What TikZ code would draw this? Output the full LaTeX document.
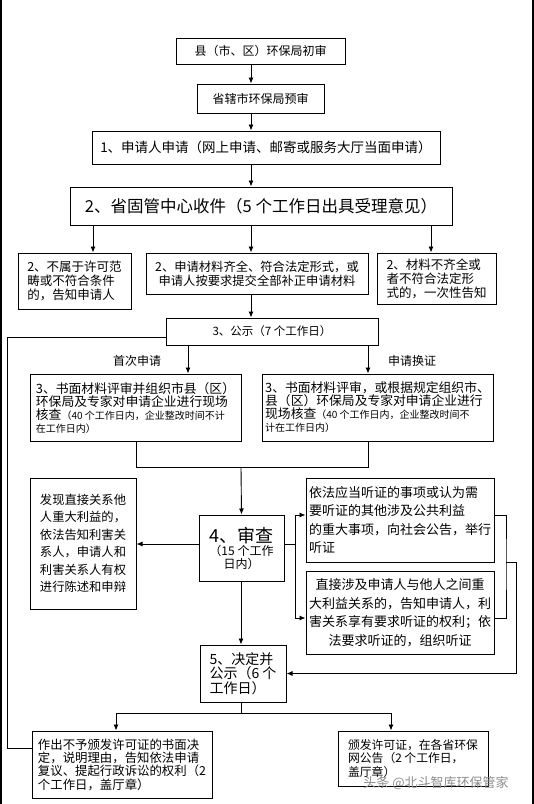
\documentclass[tikz,border=0pt]{standalone}
\usepackage{fontspec}
\setmainfont{Noto Sans CJK SC}
\usetikzlibrary{arrows.meta, calc}
\newcommand{\fsz}[2]{\fontsize{#1}{#2}\selectfont}

\begin{document}
\begin{tikzpicture}[x=1pt, y=-1pt,
  stage/.style={draw, line width=1pt, inner sep=2pt, align=center},
  arr/.style={-{Latex[length=6pt,width=5pt]}, line width=0.9pt},
  link/.style={line width=0.9pt}]
  \useasboundingbox (0,0) rectangle (534,804);
  % page edges
  \draw[line width=1.2pt] (1,0) -- (1,804);
  \draw[line width=1.2pt] (533,0) -- (533,804);
  \coordinate (col) at (251,0);

  \node[stage, minimum width=169pt, minimum height=26pt, font=\fsz{12}{14}] (pre1) at (260.5,51) {县（市、区）环保局初审};
  \node[stage, minimum width=127pt, minimum height=29pt, font=\fsz{12}{14}] (pre2) at (260.5,98.5) {省辖市环保局预审};
  \node[stage, minimum width=348pt, minimum height=33pt, font=\fsz{13.5}{15}] (apply) at (266,147.5) {1、申请人申请（网上申请、邮寄或服务大厅当面申请）};
  \node[stage, minimum width=382pt, minimum height=38pt, font=\fsz{16.5}{18}] (recv) at (261,206) {2、省固管中心收件（5 个工作日出具受理意见）};

  \node[stage, minimum width=113pt, minimum height=56pt, align=left, font=\fsz{12.5}{14}] (reject) at (74.5,281) {2、不属于许可范\\畴或不符合条件\\的，告知申请人};
  \node[stage, minimum width=222pt, minimum height=41pt, font=\fsz{12.3}{14}] (accept) at (257,273.5) {2、申请材料齐全、符合法定形式，或\\申请人按要求提交全部补正申请材料};
  \node[stage, minimum width=119pt, minimum height=51pt, align=left, font=\fsz{12.5}{14}] (notify) at (436.5,278.5) {2、材料不齐全或\\者不符合法定形\\式的，一次性告知};

  \node[stage, minimum width=212pt, minimum height=27pt, font=\fsz{11.5}{13}] (publ) at (272,331.5) {3、公示（7 个工作日）};

  \node[stage, minimum width=211pt, minimum height=67pt, align=left, font=\fsz{12.8}{13}] (revnew) at (135.5,407.5) {3、书面材料评审并组织市县（区）\\环保局及专家对申请企业进行现场\\核查{\fsz{10}{13}（40 个工作日内，企业整改时间不计}\\{\fsz{10}{13}在工作日内）}};
  \node[stage, minimum width=231pt, minimum height=67pt, align=left, font=\fsz{12.8}{13}] (revold) at (377.5,407.5) {3、书面材料评审，或根据规定组织市、\\县（区）环保局及专家对申请企业进行\\现场核查{\fsz{10}{13}（40 个工作日内，企业整改时间不}\\{\fsz{10}{13}计在工作日内）}};

  \node[stage, minimum width=85pt, minimum height=66pt, font=\fsz{12}{13}] (check) at (241.5,548) {{\fsz{18}{20}4、审查}\\（15 个工作\\日内）};
  \node[stage, minimum width=106pt, minimum height=131pt, align=left, font=\fsz{12.3}{17.5}] (inform) at (83,543.5) {发现直接关系他\\人重大利益的，\\依法告知利害关\\系人，申请人和\\利害关系人有权\\进行陈述和申辩};
  \node[stage, minimum width=188pt, minimum height=84pt, align=left, font=\fsz{13}{18.5}] (hearA) at (400,520) {依法应当听证的事项或认为需\\要听证的其他涉及公共利益\\的重大事项，向社会公告，举行\\听证};
  \node[stage, minimum width=188pt, minimum height=83pt, font=\fsz{13}{18.5}] (hearB) at (400,612.5) {直接涉及申请人与他人之间重\\大利益关系的，告知申请人，利\\害关系享有要求听证的权利；依\\法要求听证的，组织听证};

  \node[stage, minimum width=86pt, minimum height=57pt, align=left, font=\fsz{14}{14.5}] (decide) at (243,673.5) {5、决定并\\公示（6 个\\工作日）};
  \node[stage, minimum width=180pt, minimum height=67pt, align=left, font=\fsz{12.4}{13.3}] (deny) at (122,764.5) {作出不予颁发许可证的书面决\\定，说明理由，告知依法申请\\复议、提起行政诉讼的权利（2\\个工作日，盖厅章）};
  \node[stage, minimum width=150pt, minimum height=55pt, align=left, font=\fsz{11.8}{13.3}] (grant) at (413,758.5) {颁发许可证，在各省环保\\网公告（2 个工作日，\\盖厅章）};

  \node[font=\fsz{12}{14}] (first) at (137,361) {首次申请};
  \node[font=\fsz{12}{14}] (renew) at (412,361) {申请换证};

  % main column
  \draw[arr] (pre1.south -| col) -- (pre2.north -| col);
  \draw[arr] (pre2.south -| col) -- (apply.north -| col);
  \draw[arr] (apply.south -| col) -- (recv.north -| col);
  \draw[arr] (recv.south -| reject.north) ++(18.5,0) coordinate (r1) -- (r1 |- reject.north);
  \draw[arr] (recv.south -| col) -- (accept.north -| col);
  \draw[arr] (recv.south -| notify.north) ++(-5.5,0) coordinate (r3) -- (r3 |- notify.north);
  \draw[arr] (accept.south -| col) -- (publ.north -| col);

  % publicity to the two reviews
  \coordinate (p1) at (188,0);
  \coordinate (p2) at (368,0);
  \draw[arr] (publ.south -| p1) -- (revnew.north -| p1);
  \draw[arr] (publ.south -| p2) -- (revold.north -| p2);
  \coordinate (j1) at (136,467);
  \coordinate (j2) at (368,467);
  \draw[link] (revnew.south -| j1) -- (j1) -- (j2) -- (revold.south -| j2);
  \draw[arr] (241,467) -- (check.north);

  % left loop
  \coordinate (lp1) at (7,337);
  \coordinate (lp2) at (7,748);
  \draw[link] (publ.west |- lp1) -- (lp1) -- (lp2) -- (deny.west |- lp2);

  % check branches
  \draw[arr] (check.west |- 0,544) -- (inform.east |- 0,544);
  \coordinate (fk) at (295,544);
  \draw[link] (check.east |- fk) -- (fk);
  \draw[arr] (fk) |- (hearA.west |- 0,515);
  \draw[arr] (fk) |- (hearB.west |- 0,618);
  \coordinate (hj) at (506,562);
  \draw[link] (hearA.east |- 0,515) -| (hj) |- (hearB.east |- 0,618);
  \draw[arr] (hj) -- (516,562) |- (decide.east);

  \draw[arr] (check.south -| 241,0) -- (decide.north -| 241,0);
  \coordinate (d0) at (241,713);
  \draw[link] (decide.south -| d0) -- (d0);
  \draw[arr] (d0) -| (deny.north -| 116,0);
  \draw[arr] (d0) -| (grant.north -| 391,0);

  \node[text=black!45, font=\fsz{13}{14}] (mark) at (436,783) {头条 @北斗智库环保管家};
\end{tikzpicture}
\end{document}
